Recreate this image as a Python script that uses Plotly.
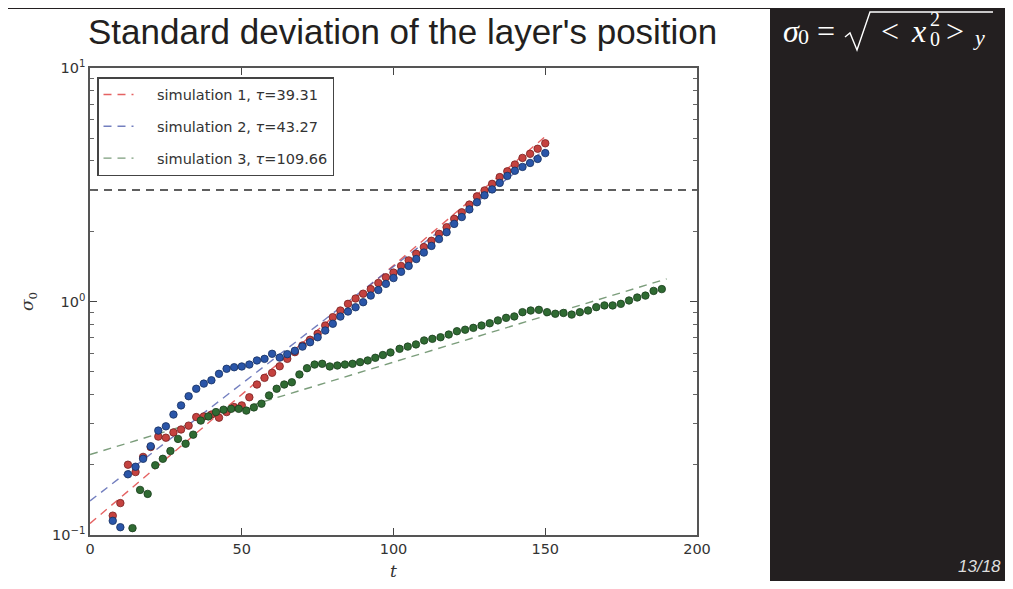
import math
import plotly.graph_objects as go

# ---------------- data ----------------
red_t = [7.5, 10, 12.5, 15, 17.5, 20, 22.5, 25, 27.5, 30,
         32.5, 35, 37.5, 40, 42.5, 45, 47.5, 50, 52.5, 55,
         57.5, 60, 62.5, 65, 67.5, 70, 72.5, 75, 77.5, 80,
         82.5, 85, 87.5, 90, 92.5, 95, 97.5, 100, 102.5, 105,
         107.5, 110, 112.5, 115, 117.5, 120, 122.5, 125, 127.5, 130,
         132.5, 135, 137.5, 140, 142.5, 145, 147.5, 150]
red_sigma = [0.121, 0.137, 0.200, 0.186, 0.216, 0.238, 0.264, 0.261, 0.275, 0.283,
             0.294, 0.320, 0.322, 0.328, 0.318, 0.336, 0.353, 0.359, 0.389, 0.441,
             0.471, 0.495, 0.528, 0.568, 0.607, 0.648, 0.686, 0.727, 0.789, 0.857,
             0.915, 0.977, 1.03, 1.08, 1.13, 1.20, 1.27, 1.33, 1.42, 1.50,
             1.60, 1.71, 1.82, 1.95, 2.08, 2.26, 2.41, 2.60, 2.82, 2.99,
             3.19, 3.41, 3.61, 3.86, 4.12, 4.29, 4.51, 4.76]

blue_t = [7.5, 10, 12.5, 15, 17.5, 20, 22.5, 25, 27.5, 30,
          32.5, 35, 37.5, 40, 42.5, 45, 47.5, 50, 52.5, 55,
          57.5, 60, 62.5, 65, 67.5, 70, 72.5, 75, 77.5, 80,
          82.5, 85, 87.5, 90, 92.5, 95, 97.5, 100, 102.5, 105,
          107.5, 110, 112.5, 115, 117.5, 120, 122.5, 125, 127.5, 130,
          132.5, 135, 137.5, 140, 142.5, 145, 147.5, 150]
blue_sigma = [0.115, 0.108, 0.182, 0.196, 0.212, 0.240, 0.280, 0.292, 0.328, 0.359,
              0.393, 0.423, 0.445, 0.460, 0.490, 0.515, 0.523, 0.527, 0.537, 0.559,
              0.568, 0.597, 0.575, 0.595, 0.615, 0.641, 0.669, 0.703, 0.751, 0.803,
              0.862, 0.906, 0.945, 0.993, 1.06, 1.12, 1.19, 1.26, 1.34, 1.42,
              1.52, 1.62, 1.73, 1.85, 1.98, 2.15, 2.30, 2.48, 2.66, 2.85,
              3.02, 3.22, 3.45, 3.63, 3.77, 3.92, 4.08, 4.32]

green_t = [14, 16.5, 19, 21.5, 24, 26.5, 29, 31.5, 34, 36.5,
           39, 41.5, 44, 46.5, 49, 51.5, 54, 56.5, 59, 61.5,
           64, 66.5, 69, 71.5, 74, 76.5, 79, 81.5, 84, 86.5,
           89, 91.5, 94, 96.5, 99,
           102, 104.7, 107.4, 110.1, 112.8, 115.5, 118.2, 120.9, 123.6, 126.3,
           129, 131.7, 134.4, 137.1, 139.8, 142.5, 145.2, 147.9, 150.6, 153.3,
           156, 158.7, 161.4, 164.1, 166.8, 169.5, 172.2, 174.9, 177.6, 180.3,
           183, 185.7, 188.4]
green_sigma = [0.107, 0.156, 0.150, 0.199, 0.212, 0.229, 0.258, 0.246, 0.269, 0.309,
               0.322, 0.336, 0.344, 0.347, 0.347, 0.341, 0.352, 0.365, 0.396, 0.423,
               0.441, 0.451, 0.487, 0.518, 0.537, 0.541, 0.527, 0.532, 0.537, 0.541,
               0.550, 0.559, 0.574, 0.590, 0.605,
               0.627, 0.641, 0.655, 0.681, 0.692, 0.703, 0.722, 0.746, 0.757, 0.771,
               0.789, 0.807, 0.830, 0.851, 0.863, 0.900, 0.915, 0.921, 0.900, 0.886,
               0.893, 0.879, 0.900, 0.915, 0.946, 0.962, 0.962, 0.977, 1.01, 1.04,
               1.06, 1.11, 1.13]

# exponential fits  sigma = A * exp(t / tau)
fit_names = ["simulation 1", "simulation 2", "simulation 3"]
fit_tau = [39.31, 43.27, 109.66]
fit_amp = [0.112, 0.140, 0.221]
fit_tend = [150, 150, 190]

threshold = 3.0
x_ticks = [0, 50, 100, 150, 200]
y_ticks = [0.1, 1, 10]
y_ticklabels = ["10<sup>−1</sup>", "10<sup>0</sup>", "10<sup>1</sup>"]

title_text = "Standard deviation of the layer's position"
page_text = "13/18"

# ---------------- styling ----------------
dot_fill = ["#c4423f", "#2a55a8", "#2f6a32"]
dot_edge = ["#7a1f1f", "#17305f", "#1b3d1d"]
fit_col = ["rgba(225,70,70,0.85)", "rgba(80,95,175,0.8)", "rgba(100,140,100,0.85)"]

OFF = 8                       # browser body margin
W, H = 1005, 573
L, T = 90 - OFF, 68 - OFF
R = W - (697 - OFF)
B = H - (535 - OFF)
PW, PH = W - L - R, H - T - B


def px(xr):
    """reference-image x pixel -> paper coordinate"""
    return (xr - OFF - L) / PW


def py(yr):
    """reference-image y pixel -> paper coordinate"""
    return (H - B - (yr - OFF)) / PH


fig = go.Figure()

series = [(red_t, red_sigma), (blue_t, blue_sigma), (green_t, green_sigma)]

for i in range(3):
    t1 = fit_tend[i]
    fig.add_trace(go.Scatter(
        x=[0, t1],
        y=[fit_amp[i], fit_amp[i] * math.exp(t1 / fit_tau[i])],
        mode="lines",
        line=dict(color=fit_col[i], width=1.4, dash="8px,6px"),
        name="&nbsp;&nbsp;&nbsp;&nbsp;" + f"{fit_names[i]}, <i>τ</i>={fit_tau[i]:.2f}",
        legendgroup=f"g{i}",
        showlegend=True,
    ))

fig.add_trace(go.Scatter(
    x=[0, 200], y=[threshold, threshold], mode="lines",
    line=dict(color="#2a2a2a", width=1.5, dash="8px,6px"),
    showlegend=False, hoverinfo="skip"))

for i, (tt, ss) in enumerate(series):
    fig.add_trace(go.Scatter(
        x=tt, y=ss, mode="markers",
        marker=dict(size=7.5, color=dot_fill[i], line=dict(color=dot_edge[i], width=0.8)),
        showlegend=False))

minor_vals = [m * 10 ** e for e in (-1, 0) for m in range(2, 10)]

DARK = "#231f20"

ann = [
    dict(text=title_text, x=px(402), y=py(31), xanchor="center", yanchor="middle",
         font=dict(family="Liberation Sans", size=35, color=DARK)),
    dict(text=f"<i>{page_text}</i>", x=px(1003), y=py(566), xanchor="right", yanchor="middle",
         font=dict(family="Liberation Sans", size=17, color="#dddddd")),
    # formula pieces
    dict(text="<i>σ</i>", x=px(781), y=py(31), xanchor="left", yanchor="middle",
         font=dict(family="Liberation Serif", size=32, color="white")),
    dict(text="0", x=px(796), y=py(37), xanchor="left", yanchor="middle",
         font=dict(family="Liberation Serif", size=22, color="white")),
    dict(text="=", x=px(815), y=py(31), xanchor="left", yanchor="middle",
         font=dict(family="Liberation Serif", size=32, color="white")),
    dict(text="<", x=px(879), y=py(31), xanchor="left", yanchor="middle",
         font=dict(family="Liberation Serif", size=32, color="white")),
    dict(text="<i>x</i>", x=px(909), y=py(31), xanchor="left", yanchor="middle",
         font=dict(family="Liberation Serif", size=32, color="white")),
    dict(text="2", x=px(928), y=py(19), xanchor="left", yanchor="middle",
         font=dict(family="Liberation Serif", size=20, color="white")),
    dict(text="0", x=px(928), y=py(39), xanchor="left", yanchor="middle",
         font=dict(family="Liberation Serif", size=20, color="white")),
    dict(text=">", x=px(944), y=py(31), xanchor="left", yanchor="middle",
         font=dict(family="Liberation Serif", size=32, color="white")),
    dict(text="<i>y</i>", x=px(971), y=py(38), xanchor="left", yanchor="middle",
         font=dict(family="Liberation Serif", size=22, color="white")),
]
for a in ann:
    a.update(xref="paper", yref="paper", showarrow=False)

surd = [(845, 37), (850, 33), (857, 50), (870, 12), (993, 12)]
surd_path = "M " + " L ".join(f"{px(x):.5f},{py(y):.5f}" for x, y in surd)

fig.update_layout(
    width=W, height=H,
    margin=dict(l=L, r=R, t=T, b=B),
    paper_bgcolor="white", plot_bgcolor="white",
    font=dict(family="DejaVu Sans", color="#333"),
    showlegend=True,
    legend=dict(
        x=px(97), y=py(77), xanchor="left", yanchor="top",
        bgcolor="white", bordercolor="#444", borderwidth=1.5,
        font=dict(family="DejaVu Sans", size=14.5, color="#333"),
        itemwidth=30, tracegroupgap=10, traceorder="grouped",
    ),
    xaxis=dict(
        range=[0, 200], tickvals=x_ticks, ticks="inside", ticklen=7, tickwidth=1,
        tickcolor="#444", showline=True, linecolor="#555", linewidth=1.5, mirror="ticks",
        showgrid=False, zeroline=False, automargin=False,
        tickfont=dict(family="DejaVu Sans", size=14.5, color="#333"),
        title=dict(text="<i>t</i>", font=dict(family="DejaVu Serif", size=17, color="#333"), standoff=20),
    ),
    yaxis=dict(
        type="log", range=[-1, 1], tickvals=y_ticks, ticktext=y_ticklabels,
        ticks="inside", ticklen=7, tickwidth=1, tickcolor="#444",
        minor=dict(tickvals=minor_vals, ticks="inside", ticklen=4, tickcolor="#666", showgrid=False),
        showline=True, linecolor="#555", linewidth=1.5, mirror="ticks",
        showgrid=False, zeroline=False, automargin=False,
        tickfont=dict(family="DejaVu Sans", size=14.5, color="#333"),
        title=dict(text="<i>σ</i><sub>0</sub>", font=dict(family="DejaVu Serif", size=17, color="#333"), standoff=14),
    ),
    shapes=[
        dict(type="rect", xref="paper", yref="paper", x0=px(770), x1=px(1030), y0=py(600), y1=py(-10),
             fillcolor=DARK, line=dict(width=0), layer="below"),
        dict(type="rect", xref="paper", yref="paper", x0=px(-10), x1=px(1030), y0=py(9), y1=py(-10),
             fillcolor=DARK, line=dict(width=0), layer="below"),
        dict(type="path", xref="paper", yref="paper", path=surd_path,
             line=dict(color="white", width=1.4)),
    ],
    annotations=ann,
)

fig.write_html("out.html")
